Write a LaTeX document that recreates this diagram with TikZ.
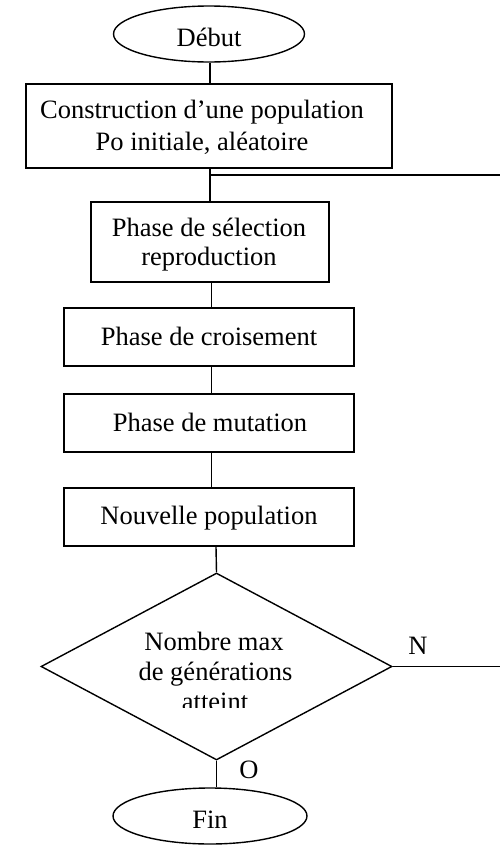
\documentclass[tikz,border=0pt]{standalone}
\usepackage{fontspec}
\setmainfont{Liberation Serif}
\usetikzlibrary{shapes.geometric}
\begin{document}
\begin{tikzpicture}[x=1pt,y=-1pt, line width=1.4pt,
  box/.style={draw, rectangle, inner sep=0pt},
  oval/.style={draw, ellipse, inner sep=0pt},
  txt/.style={font=\fontsize{26.5}{31}\selectfont, inner sep=0pt, anchor=base},
 ]
\useasboundingbox (0,0) rectangle (500,846);
% shapes
\node[oval, minimum width=191, minimum height=56] (debut) at (209,34) {};
\node[box, minimum width=366, minimum height=84] (b1) at (209,126) {};
\node[box, minimum width=238, minimum height=80] (b2) at (210,242) {};
\node[box, minimum width=290, minimum height=58] (b3) at (209,337) {};
\node[box, minimum width=290, minimum height=58] (b4) at (209,423) {};
\node[box, minimum width=290, minimum height=58] (b5) at (209,517) {};
\node[draw, diamond, inner sep=0pt, minimum width=351, minimum height=187] (dec) at (216.5,666.5) {};
\node[oval, minimum width=194, minimum height=56] (fin) at (210,816) {};
% axis coordinates
\coordinate (ax) at (210,0);
\coordinate (ay) at (211.5,0);
\coordinate (az) at (216,0);
\coordinate (br) at (210,175);
\coordinate (brend) at (500,175);
\coordinate (nend) at (500,666.5);
% texts
\node[txt] (tdeb) at (209,46) {Début};
\node[txt] (t1a) at (202,118) {Construction d’une population};
\node[txt] (t1b) at (202,150) {Po initiale, aléatoire};
\node[txt] (t2a) at (209,236) {Phase de sélection};
\node[txt] (t2b) at (209,265) {reproduction};
\node[txt] (t3) at (209,345) {Phase de croisement};
\node[txt] (t4) at (210,431) {Phase de mutation};
\node[txt] (t5) at (209,524) {Nouvelle population};
\node[txt] (td1) at (214,650) {Nombre max};
\node[txt] (td2) at (215.5,680) {de générations};
\begin{scope}
  \clip (100,600) rectangle (330,707);
  \node[txt] (td3) at (215,710) {atteint};
\end{scope}
\node[txt] (tfin) at (210,828) {Fin};
\node[txt] (tn) at (418,654) {N};
\node[txt] (to) at (249,778) {O};
% connectors
\draw (debut.south -| ax) -- (b1.north -| ax);
\draw (b1.south -| ax) -- (b2.north -| ax);
\draw (br) -- (brend);
\draw (b2.south -| ay) -- (b3.north -| ay);
\draw (b3.south -| ay) -- (b4.north -| ay);
\draw (b4.south -| ay) -- (b5.north -| ay);
\draw (b5.south -| az) -- (dec.north);
\draw (dec.east) -- (nend);
\draw (dec.south) -- (dec.south |- fin.north);
\end{tikzpicture}
\end{document}
